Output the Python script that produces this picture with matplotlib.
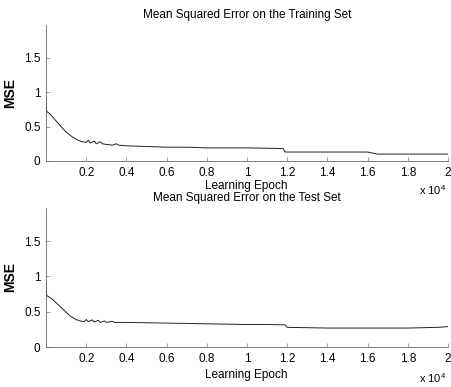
import matplotlib
matplotlib.use('Agg')
import matplotlib.pyplot as plt

plt.rcParams['font.family'] = ['Liberation Sans', 'DejaVu Sans']
plt.rcParams['mathtext.fontset'] = 'custom'
plt.rcParams['mathtext.rm'] = 'Liberation Sans'

# Values (epoch, MSE)
train_epoch = [0, 30, 200, 500, 800, 1000, 1300, 1600, 1800, 2000, 2100, 2200,
               2400, 2500, 2700, 2800, 3000, 3300, 3500, 3600, 4000, 5000, 6000,
               7000, 8000, 9000, 10000, 11000, 11800, 11900, 12500, 14000, 16000,
               16500, 18000, 20000]
train_mse = [0.92, 0.72, 0.68, 0.58, 0.48, 0.42, 0.35, 0.30, 0.28, 0.27, 0.30, 0.26,
             0.29, 0.25, 0.28, 0.25, 0.24, 0.23, 0.25, 0.23, 0.22, 0.21, 0.20,
             0.20, 0.19, 0.19, 0.19, 0.185, 0.18, 0.13, 0.13, 0.13, 0.13,
             0.10, 0.10, 0.10]

test_epoch = [0, 30, 300, 600, 900, 1200, 1500, 1700, 1900, 2000, 2100, 2300,
              2400, 2600, 2700, 2900, 3000, 3300, 3400, 4000, 5000, 6000, 7000,
              8000, 9000, 10000, 11000, 11900, 12000, 13000, 14000, 16000, 18000,
              19500, 20000]
test_mse = [0.90, 0.73, 0.68, 0.60, 0.52, 0.44, 0.39, 0.37, 0.36, 0.39, 0.36, 0.385,
            0.355, 0.38, 0.35, 0.37, 0.35, 0.365, 0.35, 0.35, 0.345, 0.34, 0.335,
            0.33, 0.325, 0.32, 0.32, 0.315, 0.28, 0.275, 0.27, 0.27, 0.27,
            0.28, 0.29]

xticks = [2000, 4000, 6000, 8000, 10000, 12000, 14000, 16000, 18000, 20000]
xticklabels = ['0.2', '0.4', '0.6', '0.8', '1', '1.2', '1.4', '1.6', '1.8', '2']
yticks = [0, 0.5, 1, 1.5]
yticklabels = ['0', '0.5', '1', '1.5']

fig = plt.figure(figsize=(4.52, 3.87), dpi=100)

panels = [
    ([0.102, 0.584, 0.889, 0.351], train_epoch, train_mse,
     'Mean Squared Error on the Training Set', 0.520),
    ([0.102, 0.103, 0.889, 0.360], test_epoch, test_mse,
     'Mean Squared Error on the Test Set', 0.032),
]

for rect, xs, ys, title, xlab_y in panels:
    ax = fig.add_axes(rect)
    ax.plot(xs, ys, color='#222222', linewidth=0.7)
    ax.set_xlim(0, 20000)
    ax.set_ylim(0, 1.97)
    ax.set_xticks(xticks)
    ax.set_xticklabels(xticklabels)
    ax.set_yticks(yticks)
    ax.set_yticklabels(yticklabels)
    ax.tick_params(direction='in', length=3, width=0.5, labelsize=8.5, pad=4,
                   color='#777777')
    for side in ['top', 'right']:
        ax.spines[side].set_visible(False)
    for side in ['left', 'bottom']:
        ax.spines[side].set_linewidth(0.6)
        ax.spines[side].set_color('#666666')
    ax.set_title(title, fontsize=8.5, pad=5)
    ax.set_ylabel('MSE', fontsize=10, fontweight='bold', labelpad=5)
    # x label sits close to the tick labels, as in the scan
    fig.text(0.545, xlab_y, 'Learning Epoch', ha='center', va='center', fontsize=8.5)
    fig.text(0.928, xlab_y - 0.01, r'x 10$^4$', ha='left', va='center', fontsize=8)

plt.savefig('out.png', dpi=100)
